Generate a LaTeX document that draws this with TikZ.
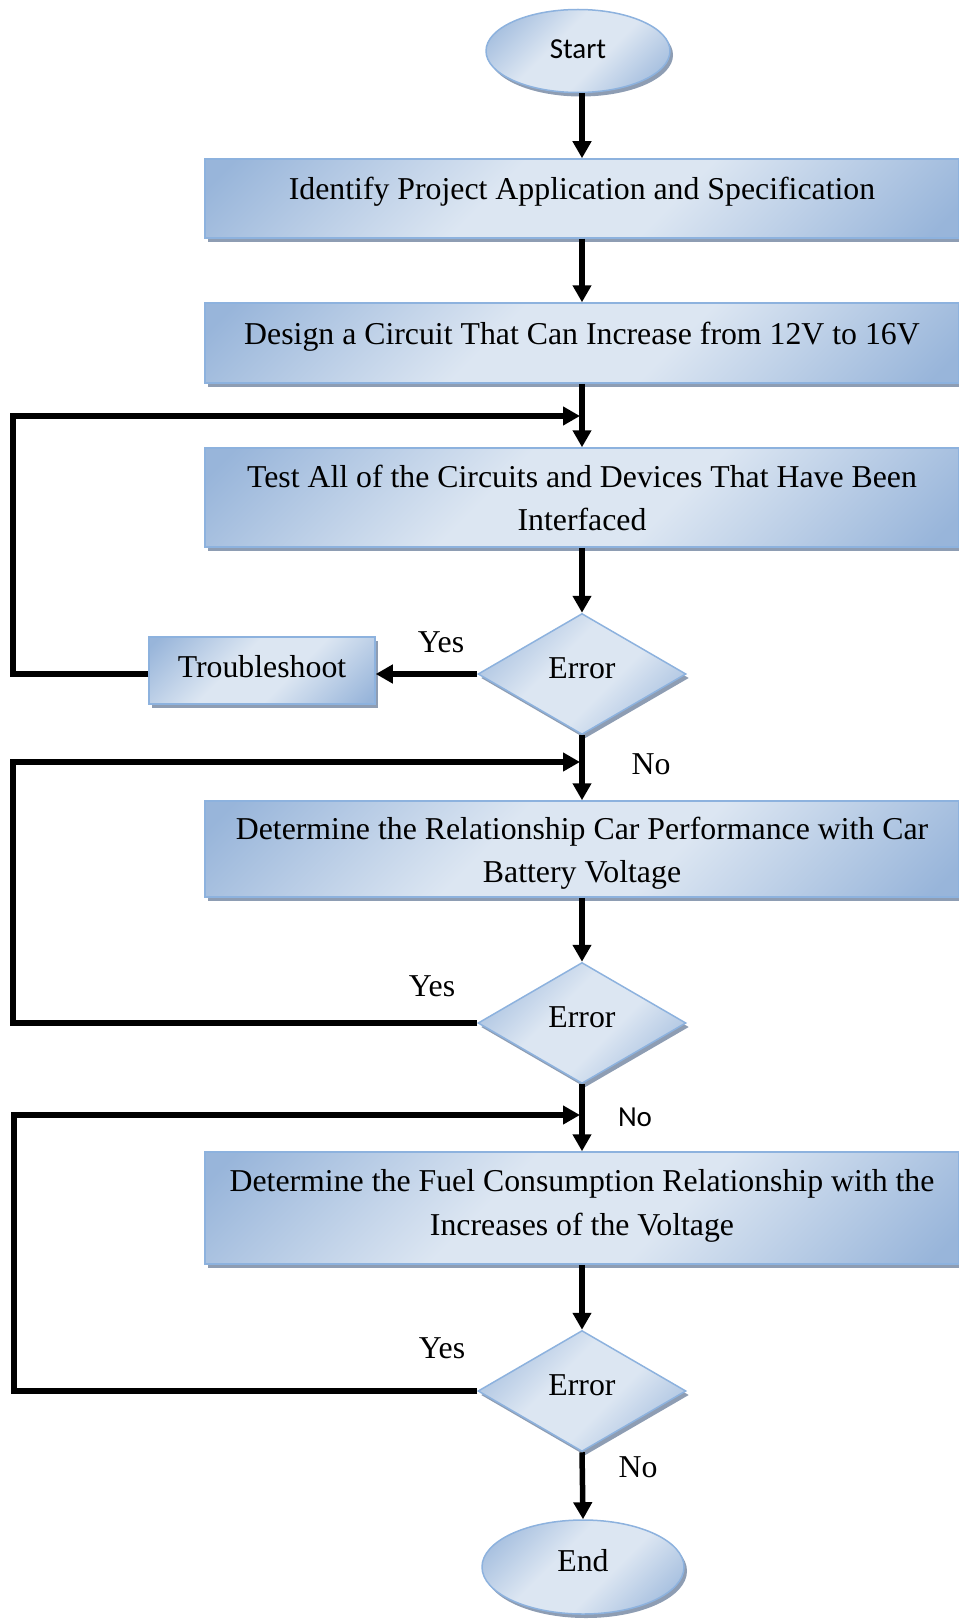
\documentclass[tikz,border=0pt]{standalone}
\usepackage{fontspec}
\setmainfont{Liberation Serif}
\newfontfamily\calibrifont{Carlito}
\usetikzlibrary{arrows.meta,shapes.geometric,shadows}
\definecolor{lightb}{HTML}{DCE6F2}
\definecolor{darkb}{HTML}{98B5DA}
\definecolor{bord}{HTML}{8DB2DE}
\definecolor{shad}{HTML}{8E9DB3}
\pgfdeclareverticalshading{boxshade}{100bp}{color(0bp)=(darkb); color(17bp)=(darkb); color(42bp)=(lightb); color(58bp)=(lightb); color(83bp)=(darkb); color(100bp)=(darkb)}
\tikzset{
  every node/.style={font=\fontsize{31.8}{43}\selectfont},
  arr/.style={line width=5.5pt, -{Triangle[width=18pt,length=17pt]}},
  fillshade/.style={draw=bord, line width=1.5pt, shade, shading=boxshade, shading angle=45,
    drop shadow={shadow xshift=3pt, shadow yshift=-4pt, fill=shad, opacity=1}},
  proc/.style={rectangle, fillshade, inner sep=0pt, minimum width=754pt},
  term/.style={ellipse, fillshade, inner sep=0pt},
  decis/.style={diamond, fillshade, inner sep=0pt, aspect=1.72, minimum width=208pt, minimum height=121pt, text depth=11pt},
  txt/.style={anchor=base, inner sep=0pt},
  sans/.style={font=\calibrifont\fontsize{29}{35}\selectfont},
}
\begin{document}
\begin{tikzpicture}[x=1pt,y=-1pt]
\useasboundingbox (0,0) rectangle (958,1621);

% nodes
\node[term, minimum width=184pt, minimum height=83pt, sans, text depth=4pt] (start) at (578,51) {Start};

\node[proc, minimum height=79pt] (b1) at (582,198.5) {};
\node[txt] (t1) at (582,200) {Identify Project Application and Specification};

\node[proc, minimum height=80pt] (b2) at (582,343) {};
\node[txt] (t2) at (582,344) {Design a Circuit That Can Increase from 12V to 16V};

\node[proc, minimum height=99pt] (b3) at (582,497.5) {};
\node[txt] (t3a) at (582,487) {Test All of the Circuits and Devices That Have Been};
\node[txt] (t3b) at (582,530) {Interfaced};

\node[decis] (d1) at (582,674) {Error};
\node[rectangle, fillshade, inner sep=0pt, minimum width=226pt, minimum height=67pt, text depth=9pt] (ts) at (262,670.5) {Troubleshoot};

\node[proc, minimum height=96pt] (b4) at (582,849) {};
\node[txt] (t4a) at (582,839) {Determine the Relationship Car Performance with Car};
\node[txt] (t4b) at (582,882) {Battery Voltage};

\node[decis] (d2) at (582,1023) {Error};

\node[proc, minimum height=112pt] (b5) at (582,1208) {};
\node[txt] (t5a) at (582,1191) {Determine the Fuel Consumption Relationship with the};
\node[txt] (t5b) at (582,1235) {Increases of the Voltage};

\node[decis] (d3) at (582,1391) {Error};

\node[term, minimum width=202pt, minimum height=94pt, text depth=14pt] (end) at (583,1567) {End};

% labels
\node[txt] (y1) at (441,652) {Yes};
\node[txt] (n1) at (651,774) {No};
\node[txt] (y2) at (432,996) {Yes};
\node[txt, sans] (n2) at (635,1126) {No};
\node[txt] (y3) at (442,1358) {Yes};
\node[txt] (n3) at (638,1477) {No};

% loop coordinates
\coordinate (k1) at (13,416);
\coordinate (j1) at (580,416);
\coordinate (k2) at (13,762);
\coordinate (j2) at (580,762);
\coordinate (k3) at (14,1115);
\coordinate (j3) at (580,1115);

% main flow
\draw[arr] (start.south -| b1.north) -- (b1.north);
\draw[arr] (b1.south) -- (b2.north);
\draw[arr] (b2.south) -- (b3.north);
\draw[arr] (b3.south) -- (d1.north);
\draw[arr] (d1.west) -- (d1.west -| ts.east);
\draw[arr] (d1.south) -- (b4.north);
\draw[arr] (b4.south) -- (d2.north);
\draw[arr] (d2.south) -- (b5.north);
\draw[arr] (b5.south) -- (d3.north);
\draw[arr] (d3.south) -- (end.north);

% loops
\draw[arr] (ts.west |- d1.west) -| (k1) -- (j1);
\draw[arr] (d2.west) -| (k2) -- (j2);
\draw[arr] (d3.west) -| (k3) -- (j3);
\end{tikzpicture}
\end{document}
